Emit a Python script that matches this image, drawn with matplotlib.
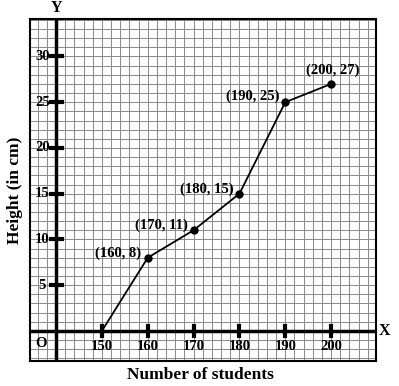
import matplotlib.pyplot as plt
import numpy as np

plt.rcParams['font.family'] = 'Liberation Serif'
plt.rcParams['font.weight'] = 'bold'

students = [150, 160, 170, 180, 190, 200]
height = [0, 8, 11, 15, 25, 27]
labels = ['', '(160, 8)', '(170, 11)', '(180, 15)', '(190, 25)', '(200, 27)']
# label offsets in pixels from the point
label_offsets = [(0, 0), (-30, 4), (-32, 5), (-33, 4), (-33, 6), (2, 14)]
x_ticks = [150, 160, 170, 180, 190, 200]
y_ticks = [5, 10, 15, 20, 25, 30]

fig = plt.figure(figsize=(3.99, 3.86), dpi=100)
ax = fig.add_axes([30 / 399, 25 / 386, 346 / 399, 342 / 386])
ax.set_xlim(134.3, 209.8)
ax.set_ylim(-3.3, 34.1)

# graph paper
ax.set_xticks(np.arange(136, 210, 2))
ax.set_yticks(np.arange(-3, 35, 1))
ax.tick_params(length=0, labelbottom=False, labelleft=False)
ax.grid(True, color='#8a8a8a', linewidth=0.7)
for s in ax.spines.values():
    s.set_linewidth(1.5)

# axes
ax.axhline(0, color='black', linewidth=2.5)
ax.axvline(140, color='black', linewidth=2.5)
for x in x_ticks:
    ax.plot([x, x], [-0.55, 0.55], color='black', linewidth=3)
    ax.text(x, -1.7, str(x), ha='center', va='center', fontsize=10.5)
for y in y_ticks:
    ax.plot([138.8, 141.2], [y, y], color='black', linewidth=3)
    ax.text(137.0, y, str(y), ha='center', va='center', fontsize=10.5)
ax.text(136.8, -1.4, 'O', ha='center', va='center', fontsize=10.5)
ax.text(211.7, 0, 'X', ha='center', va='center', fontsize=11.5, clip_on=False)
ax.text(140, 35.3, 'Y', ha='center', va='center', fontsize=11.5, clip_on=False)

# the data
ax.plot(students, height, color='black', linewidth=1.3)
ax.plot(students[1:], height[1:], 'o', color='black', markersize=5)
for x, y, t, off in zip(students, height, labels, label_offsets):
    if t:
        ax.annotate(t, (x, y), xytext=off, textcoords='offset pixels',
                    ha='center', va='center', fontsize=10.5)

fig.text(200 / 399, 1 - 375 / 386, 'Number of students', ha='center', va='center', fontsize=12.5)
fig.text(15 / 399, 1 - 190 / 386, 'Height (in cm)', ha='center', va='center', fontsize=12.5, rotation=90)

plt.savefig('out.png', dpi=100)
